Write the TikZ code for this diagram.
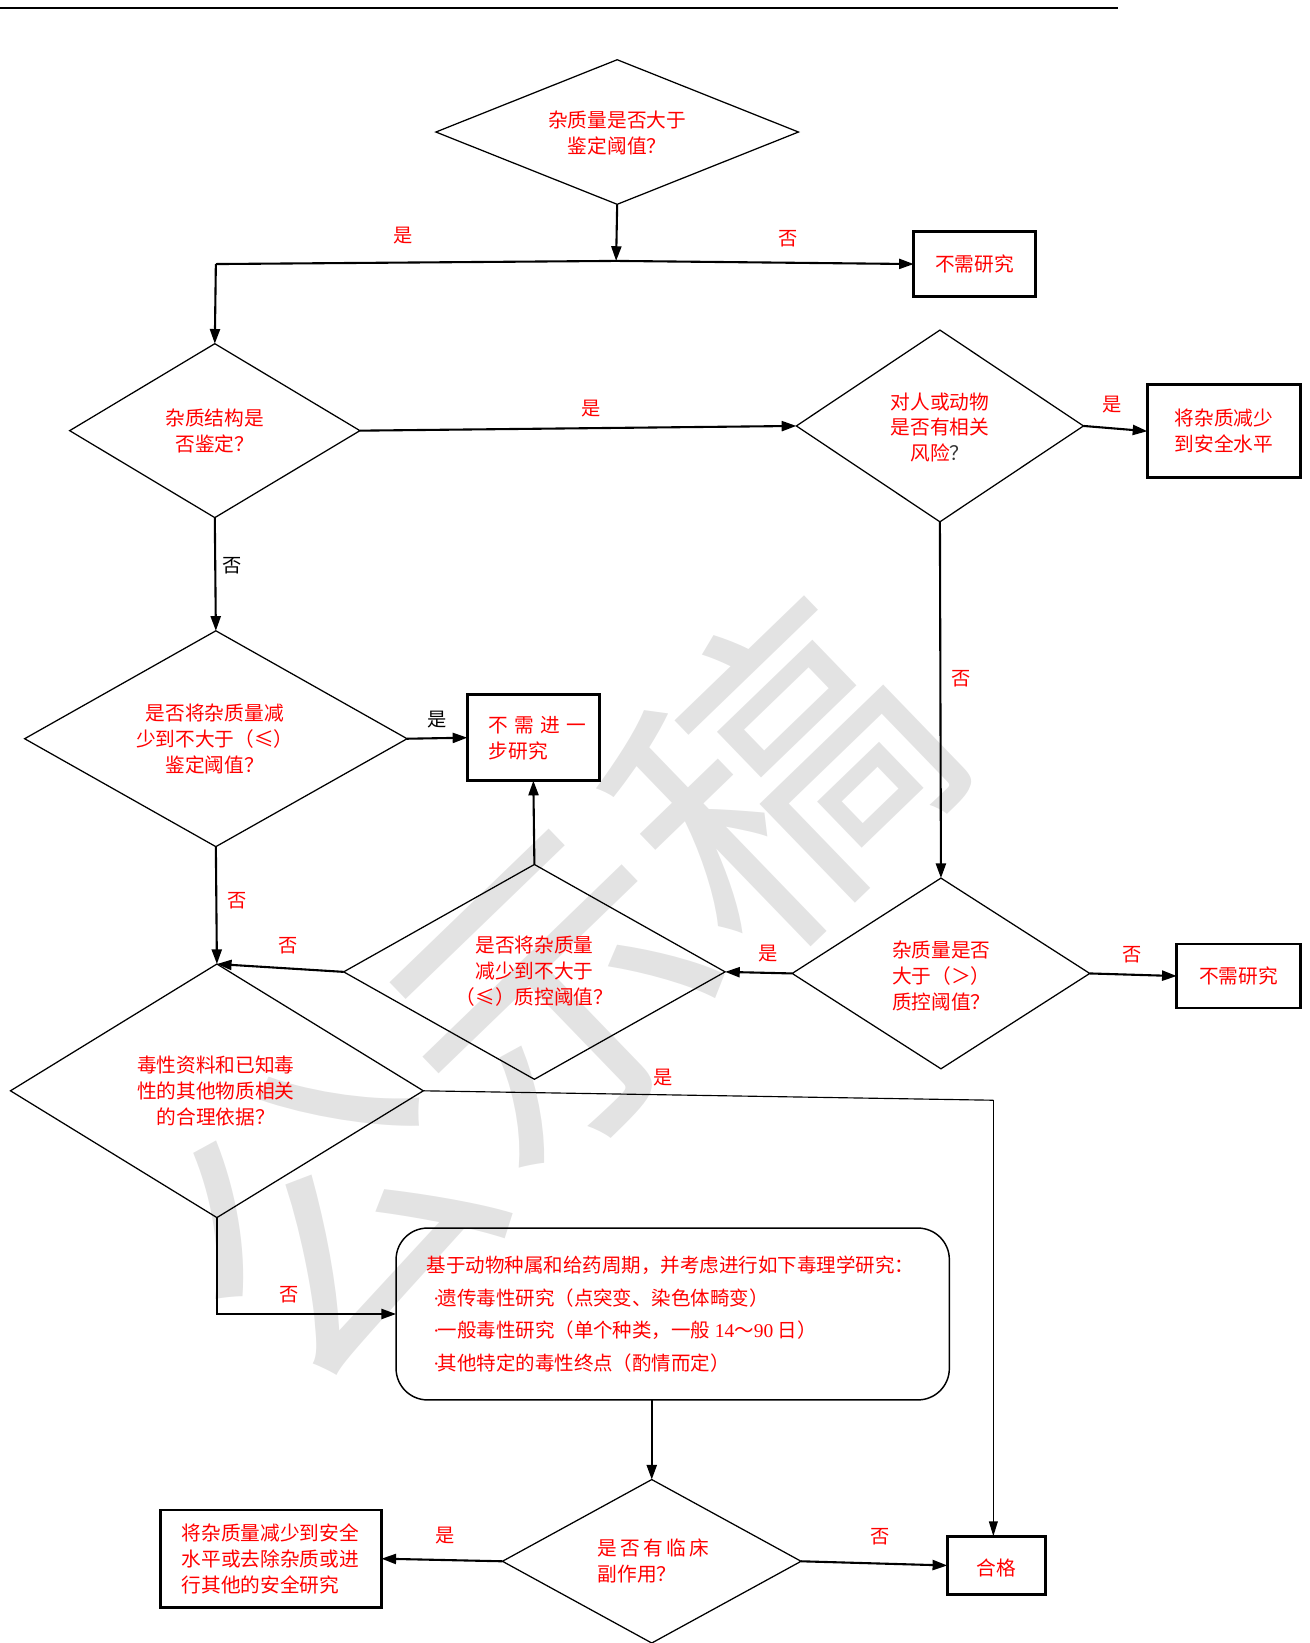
\documentclass[tikz,border=0pt]{standalone}
\usepackage{fontspec}
\setmainfont{Liberation Serif}
\newfontfamily\cjk{Noto Sans CJK SC}
\usetikzlibrary{shapes.geometric,arrows.meta}
\tikzset{
  dia/.style={diamond, draw=black, line width=0.6pt, inner sep=0pt, outer sep=0pt},
  boxn/.style={rectangle, draw=black, line width=1.3pt, inner sep=0pt, outer sep=0pt},
  roundbox/.style={rectangle, rounded corners=15pt, draw=black, line width=0.7pt, inner sep=0pt, outer sep=0pt},
  txt/.style={text=red, font=\cjk\fontsize{9.4}{12.4}\selectfont, align=center, inner sep=0pt},
  txtl/.style={text=red, font=\cjk\fontsize{9.4}{12.4}\selectfont, align=left, inner sep=0pt, anchor=west},
  lab/.style={text=red, font=\cjk\fontsize{9.2}{11}\selectfont, inner sep=0pt},
  labk/.style={text=black, font=\cjk\fontsize{9.2}{11}\selectfont, inner sep=0pt},
  conn/.style={line width=1pt, -{Triangle[length=7pt,width=4.8pt]}},
  thinconn/.style={line width=0.55pt, -{Triangle[length=7pt,width=4.2pt]}},
  plainline/.style={line width=1pt},
  thinline/.style={line width=0.55pt},
}
\begin{document}
\begin{tikzpicture}[x=0.5pt,y=-0.5pt]
\useasboundingbox (0,0) rectangle (1250,1568);
% watermark
\node[rotate=44, text=black!11, font=\cjk\fontsize{150}{150}\selectfont, inner sep=0pt] (wm) at (528,948) {公示稿};
% top rule
\coordinate (rl) at (0,8);
\coordinate (rr) at (1067,8);
\draw[line width=1pt] (rl) -- (rr);

% diamonds
\node[dia, minimum width=173pt, minimum height=69pt] (d1) at (589,126) {};
\node[dia, minimum width=138.5pt, minimum height=83pt] (d2) at (205,411) {};
\node[dia, minimum width=137pt, minimum height=91.5pt] (d3) at (897,406.5) {};
\node[dia, minimum width=182.5pt, minimum height=103pt] (d4) at (206,705) {};
\node[dia, minimum width=142pt, minimum height=91pt] (d5) at (898,929) {};
\node[dia, minimum width=182pt, minimum height=102.5pt] (d6) at (510,927.5) {};
\node[dia, minimum width=197pt, minimum height=121pt] (d7) at (207,1041) {};
\node[dia, minimum width=142.5pt, minimum height=78pt] (d8) at (622,1490) {};

% boxes
\node[boxn, minimum width=58pt, minimum height=31pt] (b1) at (930,252) {};
\node[boxn, minimum width=73pt, minimum height=44.5pt] (b2) at (1168,411.5) {};
\node[boxn, minimum width=63pt, minimum height=41pt] (b3) at (509,704) {};
\node[boxn, minimum width=59pt, minimum height=30.5pt] (b4) at (1182,931.5) {};
\node[boxn, minimum width=105.5pt, minimum height=46.5pt] (b5) at (258.5,1487.5) {};
\node[boxn, minimum width=47pt, minimum height=28pt] (b6) at (951,1494) {};
\node[roundbox, minimum width=264pt, minimum height=82pt] (r) at (642,1254) {};

% texts
\node[txt] (t1) at (589,127) {杂质量是否大于\\鉴定阈值？};
\node[txt] (t2) at (205,411) {杂质结构是\\否鉴定？};
\node[txt] (t3) at (897,408) {对人或动物\\是否有相关\\风险{\color{black!80}？}};
\node[txt] (t4) at (205,705) {是否将杂质量减\\少到不大于（≤）\\鉴定阈值？};
\node[txtl] (t5) at (851,931) {杂质量是否\\大于（＞）\\质控阈值？};
\node[txt] (t6) at (510,927) {是否将杂质量\\减少到不大于\\（≤）质控阈值？};
\node[txt] (t7) at (206,1041) {毒性资料和已知毒\\性的其他物质相关\\的合理依据？};
\node[txtl] (t8) at (570,1489.5) {是\,否\,有\,临\,床\\副作用？};
\node[txt] (tb1) at (930,252) {不需研究};
\node[txt] (tb2) at (1168,411) {将杂质减少\\到安全水平};
\node[txtl] (tb3) at (466,704.5) {不\hspace{3pt}需\hspace{3pt}进\hspace{3pt}一\\步研究};
\node[txt] (tb4) at (1182,931) {不需研究};
\node[txtl] (tb5) at (173,1488) {将杂质量减少到安全\\水平或去除杂质或进\\行其他的安全研究};
\node[txt] (tb6) at (951,1496) {合格};
\node[txtl, font=\cjk\fontsize{9.3}{15.5}\selectfont] (tr) at (407,1254) {基于动物种属和给药周期，并考虑进行如下毒理学研究：\\
\hspace*{3pt}{\rmfamily\textperiodcentered}\hspace{-1pt}遗传毒性研究（点突变、染色体畸变）\\
\hspace*{3pt}{\rmfamily\textperiodcentered}\hspace{-1pt}一般毒性研究（单个种类，一般 {\rmfamily 14}～{\rmfamily 90} 日）\\
\hspace*{3pt}{\rmfamily\textperiodcentered}\hspace{-1pt}其他特定的毒性终点（酌情而定）};

% connectors
\coordinate (j1) at (588,249);
\coordinate (j2) at (206,252);
\draw[conn] (d1.south) -- (j1);
\draw[conn] (j1) -- (b1.west);
\draw[plainline] (j1) -- (j2);
\draw[conn] (j2) -- (d2.north);
\draw[conn] (d2.east) -- (d3.west);
\draw[conn] (d3.east) -- (b2.west);
\draw[conn] (d3.south) -- (d5.north);
\draw[conn] (d2.south) -- (d4.north);
\draw[conn] (d4.east) -- (b3.west);
\draw[conn] (d6.north) -- (b3.south);
\draw[conn] (d5.west) -- (d6.east);
\draw[conn] (d5.east) -- (b4.west);
\draw[conn] (d6.west) -- (d7.north);
\draw[conn] (d4.south) -- (d7.north);
\coordinate (c1) at (948,1050);
\draw[thinline] (d7.east) -- (c1);
\draw[thinconn] (c1) -- (c1 |- b6.north);
\draw[conn] (d7.south) |- (r.west);
\draw[conn] (d8.north |- r.south) -- (d8.north);
\draw[conn] (d8.west) -- (b5.east);
\draw[conn] (d8.east) -- (b6.west);

% labels
\node[lab] (l1) at (385,225) {是};
\node[lab] (l2) at (752,228) {否};
\node[lab] (l3) at (564,390) {是};
\node[lab] (l4) at (1061,386) {是};
\node[labk] (l5) at (222,540) {否};
\node[labk] (l6) at (417,687) {是};
\node[lab] (l7) at (917,648) {否};
\node[lab] (l8) at (226,860) {否};
\node[lab] (l9) at (275,903) {否};
\node[lab] (l10) at (733,910) {是};
\node[lab] (l11) at (1080,911) {否};
\node[lab] (l12) at (633,1028) {是};
\node[lab] (l13) at (276,1236) {否};
\node[lab] (l14) at (425,1465) {是};
\node[lab] (l15) at (840,1467) {否};
\end{tikzpicture}
\end{document}
